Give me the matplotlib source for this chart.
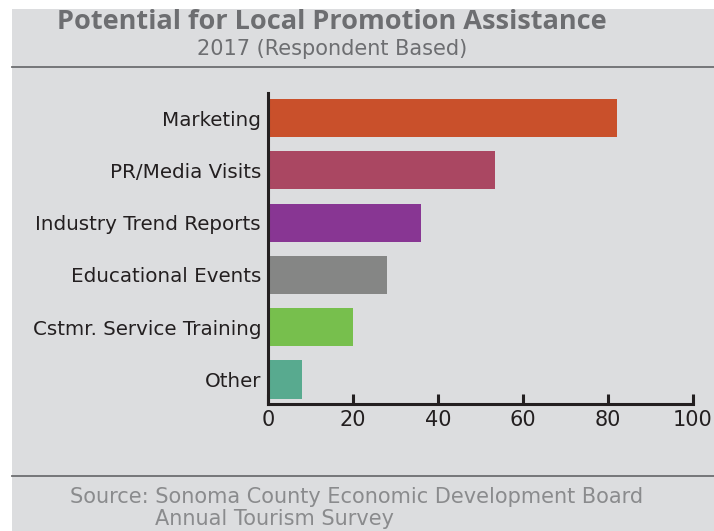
import matplotlib
matplotlib.use("Agg")
import matplotlib.pyplot as plt
from matplotlib.patches import Rectangle
from matplotlib.lines import Line2D

# survey answers, top to bottom
categories = ["Marketing", "PR/Media Visits", "Industry Trend Reports",
              "Educational Events", "Cstmr. Service Training", "Other"]
values = [82, 53.5, 36, 28, 20, 8]
colors = ["#c9502b", "#aa4762", "#883693", "#858685", "#77bf4d", "#58aa8f"]
xticks = [0, 20, 40, 60, 80, 100]

bg = "#dcdddf"
grey_txt = "#6d6e71"
dark = "#231f20"
body_font = "DejaVu Sans"

fig = plt.figure(figsize=(7.14, 5.31), dpi=100)
fig.patch.set_facecolor("white")

# grey panel (white strip on the top and left)
W, H = 714.0, 531.0
fig.patches.append(Rectangle((12 / W, 0), 1 - 12 / W, 1 - 9 / H,
                             transform=fig.transFigure, facecolor=bg,
                             edgecolor="none", zorder=-10))
for yy in [67, 476]:
    fig.lines.append(Line2D([12 / W, 1], [1 - yy / H, 1 - yy / H],
                            transform=fig.transFigure, color=grey_txt, lw=1.3))

fig.text(332 / W, 1 - 22 / H, "Potential for Local Promotion Assistance",
         ha="center", va="center", fontsize=19.5, fontweight="bold",
         color=grey_txt, family="Open Sans")
fig.text(332 / W, 1 - 49 / H, "2017 (Respondent Based)",
         ha="center", va="center", fontsize=15, color=grey_txt,
         family=body_font)
fig.text(70 / W, 1 - 497 / H, "Source: Sonoma County Economic Development Board",
         ha="left", va="center", fontsize=15, color="#8a8b8d",
         family=body_font)
fig.text(155 / W, 1 - 519 / H, "Annual Tourism Survey",
         ha="left", va="center", fontsize=15, color="#8a8b8d",
         family=body_font)

ax = fig.add_axes([268 / W, 1 - 404 / H, (693 - 268) / W, (404 - 93) / H])
ax.set_facecolor(bg)

ypos = list(range(len(categories)))[::-1]
ax.barh(ypos, values, height=0.73, color=colors, zorder=2)

ax.set_xlim(0, 100)
ax.set_ylim(-0.47, 5.48)
ax.set_xticks(xticks)
ax.set_xticklabels([str(t) for t in xticks])
ax.set_yticks(ypos)
ax.set_yticklabels(categories)

for s in ["top", "right"]:
    ax.spines[s].set_visible(False)
for s in ["left", "bottom"]:
    ax.spines[s].set_color(dark)
    ax.spines[s].set_linewidth(2.2)

ax.tick_params(axis="x", direction="in", length=7, width=2.2, color=dark,
               labelsize=15, labelcolor=dark, pad=4)
ax.tick_params(axis="y", length=0, labelsize=14.3, labelcolor=dark, pad=5)
for lab in ax.get_xticklabels() + ax.get_yticklabels():
    lab.set_family(body_font)

fig.savefig("out.png", dpi=100, facecolor=fig.get_facecolor())
